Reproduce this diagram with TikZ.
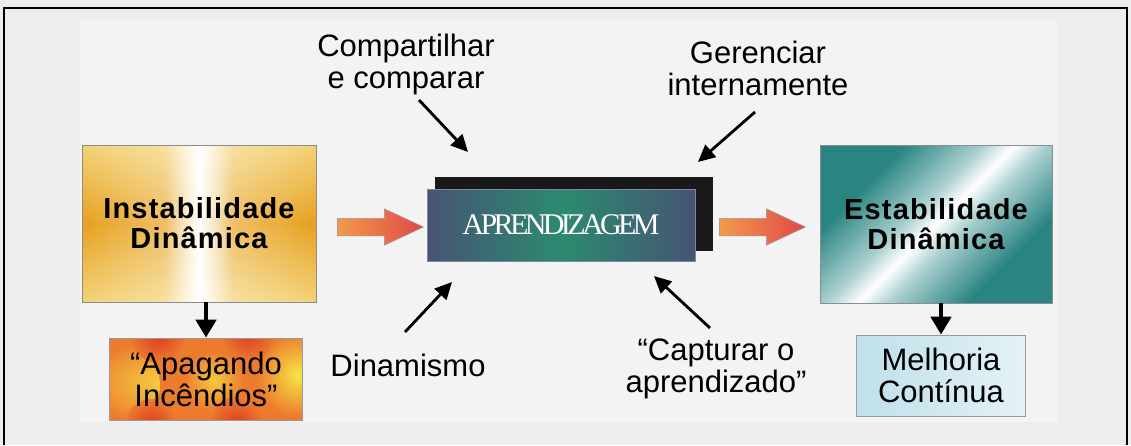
\documentclass[tikz,border=0pt]{standalone}
\usepackage{fontspec}
\setmainfont{Liberation Sans}
\newfontfamily\titlefont{Liberation Serif}
\usetikzlibrary{arrows.meta,positioning,shapes.arrows,fadings}

\definecolor{bggray}{HTML}{EDEDED}
\definecolor{bglight}{HTML}{F3F3F3}
\definecolor{goldpale}{HTML}{F2D376}
\definecolor{goldmid}{HTML}{E8A01E}
\definecolor{fireorange}{HTML}{EC7B2E}
\definecolor{fireyellow}{HTML}{F7E545}
\definecolor{firered}{HTML}{DE3A22}
\definecolor{aprendedge}{HTML}{465474}
\definecolor{aprendmid}{HTML}{2C8A70}
\definecolor{tealdk}{HTML}{2A8582}
\definecolor{teallt}{HTML}{A9CFCF}
\definecolor{melleft}{HTML}{BFE0EA}
\definecolor{melright}{HTML}{E4F2F6}
\definecolor{flowleft}{HTML}{F29A4A}
\definecolor{flowright}{HTML}{E0484A}

\pgfdeclareverticalshading{goldband}{100bp}{color(0bp)=(goldpale); color(25bp)=(goldpale); color(50bp)=(goldmid); color(75bp)=(goldpale); color(100bp)=(goldpale)}
\pgfdeclareverticalshading{tealdiag}{100bp}{color(0bp)=(tealdk); color(30bp)=(tealdk); color(44bp)=(teallt); color(50bp)=(white); color(56bp)=(teallt); color(70bp)=(tealdk); color(100bp)=(tealdk)}
\tikzfading[name=streak, left color=transparent!100, right color=transparent!100, middle color=transparent!0]
\tikzfading[name=glow, left color=transparent!100, right color=transparent!100, middle color=transparent!55]

\begin{document}
\begin{tikzpicture}[x=1pt, y=-1pt, >=Stealth,
  bigbox/.style={draw=black!45, line width=0.7pt, align=center, inner sep=0pt,
    font=\fontsize{29}{30}\selectfont\bfseries\addfontfeature{LetterSpace=4}},
  smallbox/.style={draw=black!40, line width=0.7pt, align=center, inner sep=0pt,
    font=\fontsize{31}{32}\selectfont},
  cue/.style={align=center, inner sep=0pt, font=\fontsize{31}{32}\selectfont},
  flow/.style={single arrow, draw=black!40, line width=0.5pt, minimum height=86pt,
    inner xsep=0pt, inner ysep=8.5pt, single arrow head extend=9.5pt, single arrow tip angle=50,
    left color=flowleft, right color=flowright},
  pointer/.style={-{Triangle[length=17pt,width=16pt]}, line width=2.8pt},
  heavy/.style={-{Triangle[length=18pt,width=20pt]}, line width=4.5pt}]

  \useasboundingbox (0,0) rectangle (1131,445);
  \fill[bggray] (0,0) rectangle (1131,445);
  \fill[bglight] (80,20) rectangle (1057,422);
  \draw[line width=2pt] (4,445) -- (4,8) -- (1127,8) -- (1127,445);

  % boxes
  \node[bigbox, minimum width=234pt, minimum height=157pt, shading=goldband,
    path picture={
      \fill[white, path fading=glow]
        (path picture bounding box.north west) rectangle (path picture bounding box.south east);
      \fill[white, path fading=streak]
        ([xshift=-34pt]path picture bounding box.north) rectangle ([xshift=34pt]path picture bounding box.south);}]
    (inst) at (199,223.5) {Instabilidade\\Dinâmica};
  \node[smallbox, minimum width=193pt, minimum height=82pt, fill=fireorange,
    path picture={
      \shade[inner color=fireyellow, outer color=fireorange] ([shift={(-88,6)}]path picture bounding box.center) circle (42);
      \shade[inner color=fireyellow, outer color=fireorange] ([shift={(92,-4)}]path picture bounding box.center) circle (42);
      \shade[inner color=fireyellow!75!fireorange, outer color=fireorange] ([shift={(8,2)}]path picture bounding box.center) circle (30);
      \shade[inner color=firered, outer color=fireorange] ([shift={(-48,-44)}]path picture bounding box.center) circle (28);
      \shade[inner color=firered, outer color=fireorange] ([shift={(42,-46)}]path picture bounding box.center) circle (28);
      \shade[inner color=firered, outer color=fireorange] ([shift={(-55,46)}]path picture bounding box.center) circle (26);
      \shade[inner color=firered, outer color=fireorange] ([shift={(30,46)}]path picture bounding box.center) circle (28);}]
    (apag) at (206,379) {“Apagando\\Incêndios”};

  \node[fill=black!90, minimum width=278pt, minimum height=74pt, inner sep=0pt] (aprendshadow) at (574,214) {};
  \node[draw=aprendedge!70!white, line width=0.7pt, minimum width=268pt, minimum height=72pt,
    inner sep=0pt, left color=aprendedge, right color=aprendedge, middle color=aprendmid,
    text=white, font=\titlefont\fontsize{30}{32}\selectfont\addfontfeature{LetterSpace=-12}]
    (aprend) at (561,225) {APRENDIZAGEM};

  \node[bigbox, minimum width=232pt, minimum height=158pt, shading=tealdiag, shading angle=45]
    (estab) at (936,224) {Estabilidade\\Dinâmica};
  \node[smallbox, minimum width=169pt, minimum height=81pt, left color=melleft, right color=melright]
    (melh) at (941,375.5) {Melhoria\\Contínua};

  % flow arrows
  \node[flow] (flowin) at (371,227) {};
  \node[flow] (flowout) at (753,227) {};

  % labels
  \node[cue] (comp) at (406,64) {Compartilhar\\e comparar};
  \node[cue] (geren) at (758,68) {Gerenciar\\internamente};
  \node[cue] (dinam) at (408,365) {Dinamismo};
  \node[cue] (captu) at (716,369) {“Capturar o\\aprendizado”};

  \coordinate (compA) at (419,100);  \coordinate (compB) at (468,152);
  \coordinate (gerenA) at (755,112); \coordinate (gerenB) at (698,162);
  \coordinate (dinamA) at (405,332); \coordinate (dinamB) at (452,282);
  \coordinate (captuA) at (710,328); \coordinate (captuB) at (654,276);
  \draw[pointer] (compA) -- (compB);
  \draw[pointer] (gerenA) -- (gerenB);
  \draw[pointer] (dinamA) -- (dinamB);
  \draw[pointer] (captuA) -- (captuB);

  \draw[heavy] (apag.north |- inst.south) -- (apag.north);
  \draw[heavy] (melh.north |- estab.south) -- (melh.north);
\end{tikzpicture}
\end{document}
